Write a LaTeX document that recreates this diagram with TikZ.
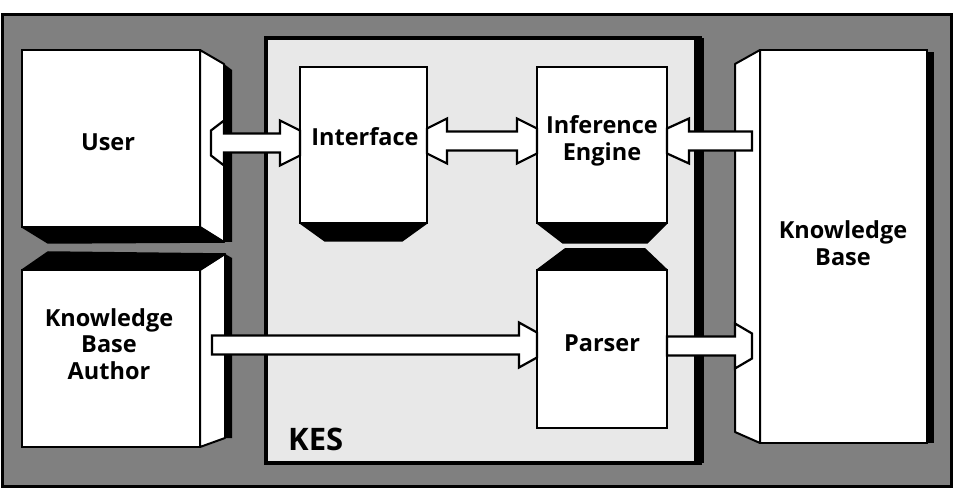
\documentclass[tikz,border=0pt]{standalone}
\usepackage{fontspec}
\setmainfont{Open Sans}
\usetikzlibrary{calc}
\definecolor{stip}{gray}{0.5}
\definecolor{kesfill}{gray}{0.91}
\tikzset{
  box/.style={draw=black, line width=2.4pt, fill=white, rectangle, inner sep=0pt, outer sep=0pt, anchor=north west},
  lbl/.style={font=\bfseries\fontsize{23.5}{26.5}\selectfont, align=center, inner sep=0pt},
  face/.style={draw=black, line width=2pt, fill=white, line join=round},
  darkface/.style={draw=black, line width=1.5pt, fill=black, line join=round},
  shade/.style={fill=black, draw=none},
  fat/.style={draw=black, line width=2.2pt, fill=white, line join=miter},
  fatLR/.style 2 args={to path={let \p1=(\tikztostart), \p2=(\tikztotarget) in
    (\x1,\y1+12.5pt) -- (\x1+#1,\y1+22.5pt) -- (\x1+#1,\y1+9.5pt) -- (\x2-#2,\y1+9.5pt) -- (\x2-#2,\y1+22.5pt) -- (\x2,\y1+12.5pt) --
    (\x2,\y1-12.5pt) -- (\x2-#2,\y1-22.5pt) -- (\x2-#2,\y1-9.5pt) -- (\x1+#1,\y1-9.5pt) -- (\x1+#1,\y1-22.5pt) -- (\x1,\y1-12.5pt) -- cycle}},
  fatR/.style={to path={let \p1=(\tikztostart), \p2=(\tikztotarget) in
    (\x1,\y1+9.5pt) -- (\x2-#1,\y1+9.5pt) -- (\x2-#1,\y1+22.5pt) -- (\x2,\y1+12.5pt) --
    (\x2,\y1-12.5pt) -- (\x2-#1,\y1-22.5pt) -- (\x2-#1,\y1-9.5pt) -- (\x1,\y1-9.5pt) -- cycle}},
  fatL/.style={to path={let \p1=(\tikztostart), \p2=(\tikztotarget) in
    (\x1,\y1+12.5pt) -- (\x1+#1,\y1+22.5pt) -- (\x1+#1,\y1+9.5pt) -- (\x2,\y1+9.5pt) --
    (\x2,\y1-9.5pt) -- (\x1+#1,\y1-9.5pt) -- (\x1+#1,\y1-22.5pt) -- (\x1,\y1-12.5pt) -- cycle}},
}
\begin{document}
\begin{tikzpicture}[x=1pt,y=-1pt]
\useasboundingbox[fill=white] (0,0) rectangle (964,497);
% outer stippled frame
\draw[fill=stip, line width=3pt] (2,15) rectangle (951,486);
% KES box
\node[draw=black, line width=3.5pt, fill=kesfill, rectangle, inner sep=0pt, outer sep=0pt, anchor=north west,
      minimum width=434pt, minimum height=425pt] (kes) at (266,38) {};
\fill[black] ($(kes.north east)+(-6,0)$) rectangle ($(kes.south east)+(4,0)$);
\node[font=\bfseries\fontsize{31}{31}\selectfont, anchor=base west, inner sep=0pt] (keslbl) at (288,450) {KES};

% shadows
\fill[shade] (224,64) -- (232,70) -- (232,242) -- (224,242) -- cycle;
\fill[shade] (225,254) -- (232,258) -- (232,438) -- (225,438) -- cycle;
\fill[shade] (926,52) rectangle (934,443);

% boxes (front faces)
\node[box, minimum width=178pt, minimum height=177pt] (user)   at (22,50)  {};
\node[box, minimum width=178pt, minimum height=177pt] (kba)    at (22,270) {};
\node[box, minimum width=127pt, minimum height=156pt] (iface)  at (300,67) {};
\node[box, minimum width=130pt, minimum height=156pt] (ie)     at (537,67) {};
\node[box, minimum width=130pt, minimum height=158pt] (parser) at (537,270) {};
\node[box, minimum width=167pt, minimum height=393pt] (kb)     at (760,50) {};

% 3D faces
\draw[face] (user.north east) -- ++(24,14) -- ($(user.south east)+(24,15)$) -- (user.south east) -- cycle;
\draw[darkface] (user.south west) -- (user.south east) -- ++(24,15) -- ($(user.south west)+(26,16)$) -- cycle;
\draw[face] (kba.north east) -- ++(25,-16) -- ($(kba.south east)+(25,-9)$) -- (kba.south east) -- cycle;
\draw[darkface] (kba.north west) -- ($(kba.north west)+(26,-18)$) -- ($(kba.north east)+(25,-16)$) -- (kba.north east) -- cycle;
\draw[darkface] (iface.south west) -- (iface.south east) -- ++(-25,18) -- ($(iface.south west)+(25,18)$) -- cycle;
\draw[darkface] (ie.south west) -- (ie.south east) -- ++(-20,20) -- ($(ie.south west)+(26,20)$) -- cycle;
\draw[darkface] (parser.north west) -- (parser.north east) -- ++(-22,-21) -- ($(parser.north west)+(28,-21)$) -- cycle;
\draw[face] (kb.north west) -- ++(-25,14) -- ($(kb.south west)+(-25,-11)$) -- (kb.south west) -- cycle;

% labels
\node[lbl] (userlbl)   at (108,142) {User};
\node[lbl] (kbalbl)    at (109,344) {Knowledge\\Base\\Author};
\node[lbl] (ifacelbl)  at (365,137) {Interface};
\node[lbl] (ielbl)     at (602,141) {Inference\\Engine};
\node[lbl] (parserlbl) at (602,343) {Parser};
\node[lbl] (kblbl)     at (843,243) {Knowledge\\Base};

% connector ends
\coordinate (a1s) at (211,143);
\coordinate (a2)  at (0,141);
\coordinate (a3e) at (752,141);
\coordinate (a4s) at (212,345);
\coordinate (a5e) at (752,346);

% fat arrows
\draw[fat] (a1s) to[fatLR={13pt}{20pt}] (a1s -| iface.west);
\draw[fat] (a2 -| iface.east) to[fatLR={20pt}{20pt}] (a2 -| ie.west);
\draw[fat] (a3e -| ie.east) to[fatL=22pt] (a3e);
\draw[fat] (a4s) to[fatR=18pt] (a4s -| parser.west);
\draw[fat] (a5e -| parser.east) to[fatR=17pt] (a5e);
\end{tikzpicture}
\end{document}
